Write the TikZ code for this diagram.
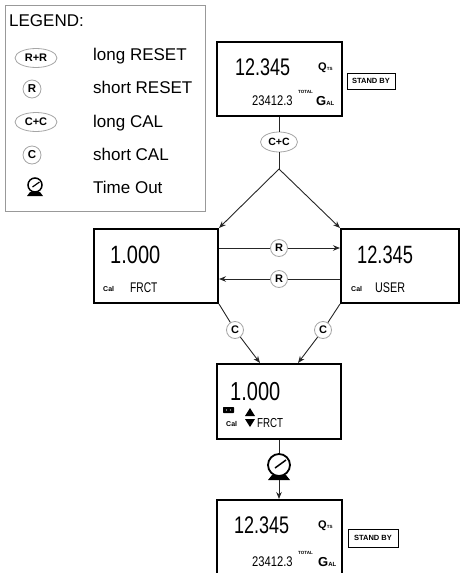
\documentclass[tikz,border=0pt]{standalone}
\usepackage{fontspec}
\setmainfont{Liberation Sans}
\usetikzlibrary{arrows.meta,shapes.geometric}
\newcommand{\lcdnum}[2]{\scalebox{#1}[1]{#2}}
\begin{document}
\begin{tikzpicture}[x=1pt,y=-1pt,
  lcdbox/.style={draw,line width=2pt,rectangle,inner sep=0pt},
  txt/.style={inner sep=0pt,anchor=base west},
  keyc/.style={circle,draw=black!35,line width=0.8pt,fill=white,inner sep=0pt,minimum size=18pt,font=\fontsize{11.5}{11.5}\selectfont\bfseries},
  keye/.style={ellipse,draw=black!35,line width=0.8pt,fill=white,inner sep=0pt,minimum width=42pt,minimum height=19pt,font=\fontsize{11}{11}\selectfont\bfseries},
  conn/.style={line width=0.9pt,draw=black!85},
  arr/.style={conn,-{Stealth[length=7pt,width=5.5pt]}},
  standby/.style={draw,line width=1pt,inner sep=0pt,minimum width=48pt,minimum height=16pt,font=\fontsize{7.5}{8}\selectfont\bfseries},
  legtxt/.style={txt,font=\fontsize{17}{17}\selectfont},
  clock/.style={circle,draw,line width=1.8pt,inner sep=0pt,fill=white},
]
\useasboundingbox (0,0) rectangle (461,573);
\clip (0,0) rectangle (461,573);

% ---------- legend ----------
\node[draw=black!40,line width=0.8pt,minimum width=200pt,minimum height=206pt,inner sep=0pt] (leg) at (105,108) {};
\node[legtxt] (legt) at (9,26) {LEGEND:};
\node[keye] (lk1) at (36,58) {R+R};
\node[legtxt] (ll1) at (93,60) {long RESET};
\node[keyc] (lk2) at (32,89) {R};
\node[legtxt] (ll2) at (93,93) {short RESET};
\node[keye] (lk3) at (36,122) {C+C};
\node[legtxt] (ll3) at (93,127) {long CAL};
\node[keyc] (lk4) at (32,155) {C};
\node[legtxt] (ll4) at (93,160) {short CAL};
\node[clock,line width=1.5pt,minimum size=14pt] (lclk) at (35,185) {};
\draw[line width=1.2pt] (lclk.center) ++(-2.5,2) -- ++(7,-5);
\fill (lclk.center) ++(-5,7) -- ++(10,0) -- ++(3,4) -- ++(-16,0) -- cycle;
\node[legtxt] (ll5) at (93,193) {Time Out};

% ---------- top display ----------
\node[lcdbox,minimum width=125pt,minimum height=74pt] (top) at (279,79) {};
\node[txt,font=\fontsize{24}{24}\selectfont] (t1) at (235,75) {\lcdnum{0.75}{12.345}};
\node[txt] (tq) at (318,70) {\fontsize{11}{11}\selectfont\bfseries Q\fontsize{4.5}{5}\selectfont TS};
\node[txt,font=\fontsize{14}{14}\selectfont] (t2) at (252,105) {\lcdnum{0.8}{23412.3}};
\node[txt] (ttot) at (298,93) {\fontsize{4.5}{5}\selectfont\bfseries TOTAL};
\node[txt] (tg) at (316,105) {\fontsize{13}{13}\selectfont\bfseries G\fontsize{6}{6}\selectfont AL};
\node[standby] (sb1) at (371,81) {STAND BY};

% ---------- left display ----------
\node[lcdbox,minimum width=124pt,minimum height=74pt] (lbox) at (156,266) {};
\node[txt,font=\fontsize{25}{25}\selectfont] (l1) at (110,263) {\lcdnum{0.8}{1.000}};
\node[txt,font=\fontsize{7}{7}\selectfont\bfseries] (lcal) at (103,291) {Cal};
\node[txt,font=\fontsize{14}{14}\selectfont] (lf) at (130,292) {\lcdnum{0.73}{FRCT}};

% ---------- right display ----------
\node[lcdbox,minimum width=118pt,minimum height=74pt] (rbox) at (400,266) {};
\node[txt,font=\fontsize{25}{25}\selectfont] (r1t) at (357,263) {\lcdnum{0.73}{12.345}};
\node[txt,font=\fontsize{7}{7}\selectfont\bfseries] (rcal) at (351,291) {Cal};
\node[txt,font=\fontsize{14}{14}\selectfont] (ru) at (375,292) {\lcdnum{0.77}{USER}};

% ---------- middle display ----------
\node[lcdbox,minimum width=124pt,minimum height=75pt] (mid) at (279,401.5) {};
\node[txt,font=\fontsize{26}{26}\selectfont] (m1t) at (230,400) {\lcdnum{0.77}{1.000}};
\fill[rounded corners=0.6pt] (223,407) rectangle (234,413);
\fill[white] (226.5,410) circle (0.7) (230.5,410) circle (0.7);
\fill (245,416) -- (255,416) -- (250,408) -- cycle;
\fill (245,419) -- (255,419) -- (250,427) -- cycle;
\node[txt,font=\fontsize{7}{7}\selectfont\bfseries] (mcal) at (226,426) {Cal};
\node[txt,font=\fontsize{13}{13}\selectfont] (mf) at (257,427) {\lcdnum{0.75}{FRCT}};

% ---------- bottom display ----------
\node[lcdbox,minimum width=125pt,minimum height=80pt] (bot) at (279,540) {};
\node[txt,font=\fontsize{24}{24}\selectfont] (b1) at (234,533) {\lcdnum{0.75}{12.345}};
\node[txt] (bq) at (318,528) {\fontsize{11}{11}\selectfont\bfseries Q\fontsize{4.5}{5}\selectfont TS};
\node[txt,font=\fontsize{14}{14}\selectfont] (b2) at (252,566) {\lcdnum{0.8}{23412.3}};
\node[txt] (btot) at (298,554) {\fontsize{4.5}{5}\selectfont\bfseries TOTAL};
\node[txt] (bg) at (318,566) {\fontsize{13}{13}\selectfont\bfseries G\fontsize{6}{6}\selectfont AL};
\node[standby,minimum width=50pt,minimum height=18pt] (sb2) at (373,538) {STAND BY};

% ---------- key symbols on the flow ----------
\node[keye,minimum width=37pt,minimum height=20pt,font=\fontsize{10.5}{10.5}\selectfont\bfseries] (cc) at (279,142) {C+C};
\coordinate (j) at (279,169);
\node[keyc,minimum size=17pt,font=\fontsize{11}{11}\selectfont\bfseries] (rr1) at (279,248) {R};
\node[keyc,minimum size=17pt,font=\fontsize{11}{11}\selectfont\bfseries] (rr2) at (279,279) {R};
\node[keyc,minimum size=17pt,font=\fontsize{11}{11}\selectfont\bfseries] (c1) at (235,330) {C};
\node[keyc,minimum size=17pt,font=\fontsize{11}{11}\selectfont\bfseries] (c2) at (323,330) {C};
\coordinate (m1) at (260,363);
\coordinate (m2) at (298,363);
\node[clock,minimum size=22pt] (clk) at (279,465) {};
\draw[line width=1.5pt] (clk.center) ++(-4,3) -- ++(11,-8);
\fill (clk.center) ++(-7,10) -- ++(14,0) -- ++(4,5) -- ++(-22,0) -- cycle;
\coordinate (clkb) at (279,480);

% ---------- connectors ----------
\draw[conn] (top.south) -- (cc);
\draw[conn] (cc) -- (j);
\draw[arr] (j) -- (lbox.north east);
\draw[arr] (j) -- (rbox.north west);
\draw[conn] (lbox.east |- rr1) -- (rr1);
\draw[arr] (rr1) -- (rbox.west |- rr1);
\draw[conn] (rbox.west |- rr2) -- (rr2);
\draw[arr] (rr2) -- (lbox.east |- rr2);
\draw[conn] (lbox.south east) -- (c1);
\draw[arr] (c1) -- (m1);
\draw[conn] (rbox.south west) -- (c2);
\draw[arr] (c2) -- (m2);
\draw[conn] (mid.south) -- (clk);
\draw[arr] (clkb) -- (bot.north);
\end{tikzpicture}
\end{document}
